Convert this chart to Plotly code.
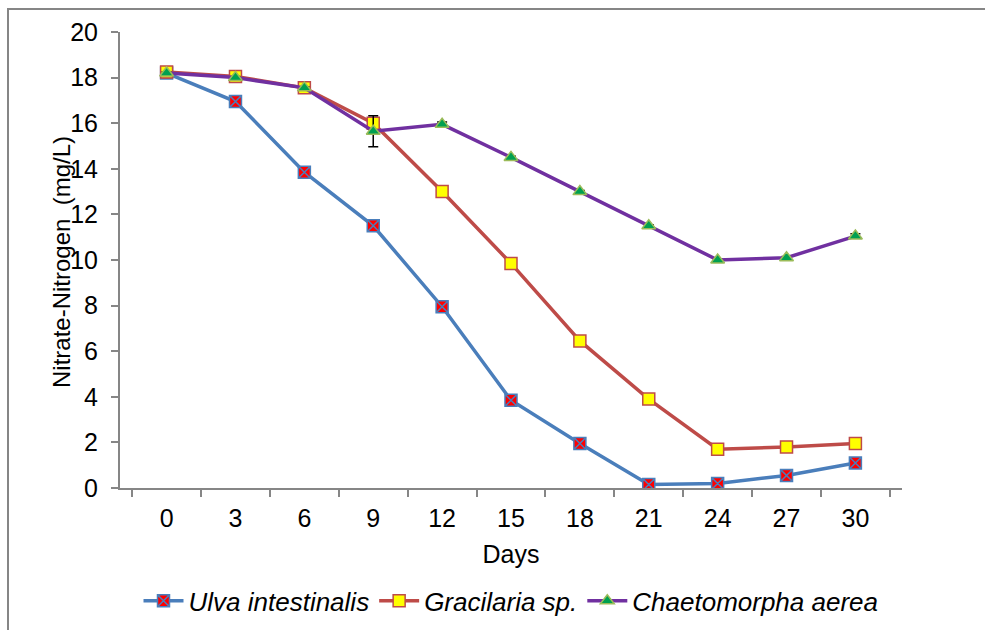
import plotly.graph_objects as go

days = ["0", "3", "6", "9", "12", "15", "18", "21", "24", "27", "30"]
ulva = [18.2, 16.95, 13.85, 11.5, 7.95, 3.85, 1.95, 0.15, 0.2, 0.55, 1.1]
gracilaria = [18.25, 18.05, 17.55, 16.0, 13.0, 9.85, 6.45, 3.9, 1.7, 1.8, 1.95]
chaeto = [18.2, 18.0, 17.55, 15.65, 15.95, 14.5, 13.0, 11.5, 10.0, 10.1, 11.05]
chaeto_err = [0.05, 0.05, 0.05, 0.68, 0.1, 0.05, 0.05, 0.05, 0.05, 0.05, 0.1]
names = ["Ulva intestinalis", "Gracilaria sp.", "Chaetomorpha aerea"]

FONT = "Liberation Sans, Arial, sans-serif"

fig = go.Figure()
fig.add_trace(go.Scatter(
    x=days, y=ulva, name="<i>" + names[0] + "</i>", mode="lines+markers",
    line=dict(color="#4A7EBB", width=3.5),
    marker=dict(symbol="square-x", size=12, color="#FF0000",
                line=dict(color="#4A7EBB", width=1.5)),
))
fig.add_trace(go.Scatter(
    x=days, y=gracilaria, name="<i>" + names[1] + "</i>", mode="lines+markers",
    line=dict(color="#BE4B48", width=3.5),
    marker=dict(symbol="square", size=12, color="#FFFF00",
                line=dict(color="#BE4B48", width=1.5)),
))
fig.add_trace(go.Scatter(
    x=days, y=chaeto, name="<i>" + names[2] + "</i>", mode="lines+markers",
    line=dict(color="#7030A0", width=3.5),
    marker=dict(symbol="triangle-up", size=12, color="#00A050",
                line=dict(color="#9BBB59", width=1.5)),
    error_y=dict(type="data", array=chaeto_err, visible=True,
                 color="#000000", thickness=1.5, width=5),
))

fig.update_layout(
    width=985, height=630,
    margin=dict(l=120, r=83, t=32, b=142, autoexpand=False),
    paper_bgcolor="white", plot_bgcolor="white",
    font=dict(family=FONT, size=25, color="#000000"),
    showlegend=True,
    legend=dict(orientation="h", x=0.5, xanchor="center", y=-0.196, yanchor="top",
                font=dict(family=FONT, size=26), itemwidth=40,
                tracegroupgap=0),
    xaxis=dict(
        type="category", tickson="boundaries", automargin=False,
        showline=True, linecolor="#868686", linewidth=2,
        ticks="outside", ticklen=7, tickcolor="#868686", tickwidth=2,
        showgrid=False, zeroline=False,
        title=dict(text="Days", standoff=14, font=dict(size=25)),
        tickfont=dict(size=25), ticklabelstandoff=7,
    ),
    yaxis=dict(
        range=[0, 20], dtick=2, automargin=False,
        showline=True, linecolor="#868686", linewidth=2,
        ticks="outside", ticklen=7, tickcolor="#868686", tickwidth=2,
        showgrid=False, zeroline=False,
        tickfont=dict(size=25), ticklabelstandoff=8,
    ),
    annotations=[dict(
        text="Nitrate-Nitrogen  (mg/L)", xref="paper", yref="paper",
        x=(61 - 120) / 782, y=(488 - 262) / 456, textangle=-90,
        showarrow=False, xanchor="center", yanchor="middle",
        font=dict(family=FONT, size=24),
    )],
    shapes=[dict(
        type="rect", xref="paper", yref="paper",
        x0=(8 - 120) / 782, x1=1.2, y0=-0.5, y1=(488 - 9) / 456,
        line=dict(color="#868686", width=2), fillcolor="rgba(0,0,0,0)",
        layer="below",
    )],
)

fig.write_html("out.html")
